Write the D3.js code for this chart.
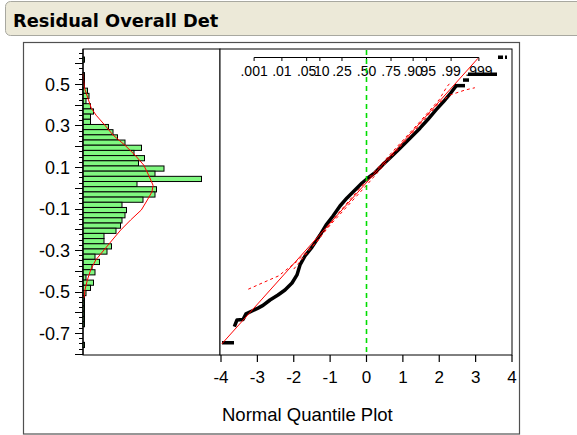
<!DOCTYPE html>
<html><head><meta charset="utf-8">
<script src="https://cdn.jsdelivr.net/npm/d3@7"></script>
<style>body{margin:0;background:#fff}svg{display:block}</style>
</head><body>
<svg id="c" width="577" height="435"></svg>
<script>
// ---------- data ----------
const title = "Residual Overall Det";
const xLabel = "Normal Quantile Plot";
const yTickValues = [0.5, 0.3, 0.1, -0.1, -0.3, -0.5, -0.7];
const yTickLabels = ["0.5", "0.3", "0.1", "-0.1", "-0.3", "-0.5", "-0.7"];
const qTickValues = [-4, -3, -2, -1, 0, 1, 2, 3, 4];
const qTickLabels = ["-4", "-3", "-2", "-1", "0", "1", "2", "3", "4"];
const probLabels = [".001", ".01", ".05", ".10", ".25", ".50", ".75", ".90", ".95", ".99", ".999"];
const probZ = [-3.090, -2.326, -1.645, -1.282, -0.674, 0, 0.674, 1.282, 1.645, 2.326, 3.090];

// histogram bins (lower edge, count)
const binWidth = 0.025;
const binLow = [0.605, 0.53, 0.505, 0.48, 0.455, 0.43, 0.405, 0.38, 0.355, 0.33, 0.305, 0.28, 0.255, 0.23, 0.205, 0.18, 0.155, 0.13, 0.105, 0.08, 0.055, 0.03, 0.005,
  -0.02, -0.045, -0.07, -0.095, -0.12, -0.145, -0.17, -0.195, -0.22, -0.245, -0.27, -0.295, -0.32, -0.345, -0.37, -0.395, -0.42, -0.445, -0.47, -0.495, -0.52,
  -0.545, -0.57, -0.595, -0.62, -0.645, -0.67, -0.77];
const binCount = [1, 1, 1, 1, 3, 4, 2, 5, 7, 5, 5, 17, 20, 23, 28, 39, 34, 41, 37, 54, 48, 79, 36,
  49, 48, 40, 26, 29, 28, 26, 25, 22, 14, 14, 19, 16, 8, 11, 6, 8, 2, 7, 5, 2,
  1, 1, 1, 1, 1, 1, 1];

// fitted density curve on histogram (value, count-equivalent)
const densV = [0.55, 0.482, 0.431, 0.384, 0.35, 0.302, 0.254, 0.206, 0.157, 0.109, 0.06, 0.012, -0.019, -0.059, -0.107, -0.155, -0.204, -0.252, -0.3, -0.348, -0.396, -0.445, -0.493, -0.53];
const densC = [0, 0.9, 3.3, 5.5, 8.7, 14.5, 20, 27.8, 34.7, 40.5, 43.8, 46.7, 46, 42.9, 38.9, 31.8, 25.1, 19.5, 14, 8.5, 5.1, 2.9, 1.3, 0.7];

// normal quantile plot: ordered residuals (normal quantile, residual)
const curveQ = [-3.615, -3.560, -3.395, -3.313, -3.148, -2.983, -2.845, -2.653, -2.433, -2.241, -2.048, -1.911, -1.828, -1.691, -1.498, -1.278, -1.113, -0.921, -0.729, -0.536, -0.316, -0.124, 0.041, 0.234, 0.454, 0.701, 0.921, 1.196, 1.471, 1.691, 1.911, 2.131, 2.296, 2.433];
const curveV = [-0.661, -0.637, -0.635, -0.608, -0.594, -0.580, -0.567, -0.541, -0.517, -0.493, -0.459, -0.420, -0.372, -0.329, -0.286, -0.228, -0.180, -0.136, -0.088, -0.049, -0.011, 0.023, 0.047, 0.073, 0.112, 0.153, 0.190, 0.238, 0.287, 0.330, 0.375, 0.418, 0.452, 0.484];
// runs of tied residuals
const tieQ1 = [-3.973, 2.433, 2.653, 2.790, 3.615, 3.808];
const tieQ2 = [-3.643, 2.708, 2.818, 3.588, 3.753, 3.863];
const tieV  = [-0.747, 0.492, 0.519, 0.547, 0.629, 0.629];
// fitted normal line
const fitQ = [-3.98, 3.065];
const fitV = [-0.753, 0.624];
// confidence bands
const upperQ = [-3.25, -2.84, -2.42, -1.92, -1.37, -0.8, 0, 0.8, 1.4, 2.0, 2.21, 2.3];
const upperV = [-0.489, -0.457, -0.425, -0.356, -0.262, -0.128, 0.035, 0.190, 0.305, 0.425, 0.487, 0.505];
const lowerQ = [-2.0, -1.0, 0, 1.0, 1.6, 2.0, 2.3, 2.71, 2.98];
const lowerV = [-0.392, -0.18, 0.012, 0.212, 0.33, 0.41, 0.447, 0.471, 0.482];

// ---------- layout ----------
const svg = d3.select("#c");
const axisX = 83, panelTop = 49, panelBot = 355, qLeft = 220, qRight = 512;
const y = d3.scaleLinear().domain([0.5, -0.7]).range([84, 333]);
const xc = d3.scaleLinear().domain([0, 80]).range([axisX, axisX + 120]);
const xq = d3.scaleLinear().domain([-4, 4]).range([221, 512]);
const font = "'Liberation Sans', Arial, sans-serif";

// title bar
svg.append("rect").attr("x", 5.5).attr("y", 1.5).attr("width", 640).attr("height", 34)
  .attr("rx", 5).attr("fill", "#ece9d8").attr("stroke", "#a8a8a0").attr("stroke-width", 1);
svg.append("text").attr("x", 13).attr("y", 26.7).text(title)
  .attr("font-family", "'DejaVu Sans', sans-serif").attr("font-weight", "bold")
  .attr("font-size", 17.8).attr("fill", "#000");

// outer box
svg.append("rect").attr("x", 23.5).attr("y", 42.5).attr("width", 496).attr("height", 391.5)
  .attr("fill", "#fff").attr("stroke", "#505050").attr("stroke-width", 1.2);

// histogram panel frame
svg.append("rect").attr("x", axisX).attr("y", panelTop).attr("width", qLeft - axisX).attr("height", panelBot - panelTop)
  .attr("fill", "#fff").attr("stroke", "#000").attr("stroke-width", 1);
// quantile panel frame
svg.append("rect").attr("x", qLeft).attr("y", panelTop).attr("width", qRight - qLeft).attr("height", panelBot - panelTop)
  .attr("fill", "#fff").attr("stroke", "#000").attr("stroke-width", 1);

// left axis ticks
const minorTicks = d3.range(-32, 27).map(i => i * 0.025);
svg.append("g").selectAll("line").data(minorTicks).join("line")
  .attr("x1", d => Math.abs(d * 10 - Math.round(d * 10)) < 1e-6 ? axisX - 8 : axisX - 4)
  .attr("x2", axisX).attr("y1", d => Math.round(y(d)) + 0.5).attr("y2", d => Math.round(y(d)) + 0.5)
  .attr("stroke", "#000").attr("stroke-width", 1);
svg.append("g").selectAll("text").data(yTickValues).join("text")
  .attr("x", 70).attr("y", d => y(d) + 6.5).attr("text-anchor", "end")
  .attr("font-family", font).attr("font-size", 18).attr("fill", "#000")
  .text((d, i) => yTickLabels[i]);

// histogram bars
const bins = binLow.map((lo, i) => ({lo, c: binCount[i]}));
svg.append("g").selectAll("rect").data(bins).join("rect")
  .attr("x", axisX).attr("y", d => y(d.lo + binWidth))
  .attr("width", d => xc(d.c) - axisX).attr("height", d => y(d.lo) - y(d.lo + binWidth))
  .attr("fill", "#80f880").attr("stroke", "#000").attr("stroke-width", 1);

// density curve
const dens = densV.map((v, i) => [xc(densC[i]), y(v)]);
svg.append("path").attr("d", d3.line()(dens)).attr("fill", "none")
  .attr("stroke", "#ff0000").attr("stroke-width", 1);

// left axis line (drawn over bars)
svg.append("line").attr("x1", axisX).attr("x2", axisX).attr("y1", panelTop).attr("y2", panelBot)
  .attr("stroke", "#000").attr("stroke-width", 1.2);

// bottom axis
const bx = svg.append("g");
bx.selectAll("line").data(qTickValues).join("line")
  .attr("x1", d => xq(d)).attr("x2", d => xq(d)).attr("y1", panelBot).attr("y2", panelBot + 7)
  .attr("stroke", "#000").attr("stroke-width", 1.2);
bx.selectAll("text").data(qTickValues).join("text")
  .attr("x", d => xq(d)).attr("y", 383).attr("text-anchor", "middle")
  .attr("font-family", font).attr("font-size", 17).attr("fill", "#000")
  .text((d, i) => qTickLabels[i]);
svg.append("text").attr("x", 222).attr("y", 421).text(xLabel)
  .attr("font-family", font).attr("font-size", 18.5).attr("fill", "#000");

// top probability axis
const pz = svg.append("g");
pz.append("line").attr("x1", xq(probZ[0])).attr("x2", xq(probZ[probZ.length - 1]))
  .attr("y1", 57.5).attr("y2", 57.5).attr("stroke", "#000").attr("stroke-width", 1);
pz.selectAll("line.t").data(probZ).join("line").attr("class", "t")
  .attr("x1", d => xq(d)).attr("x2", d => xq(d)).attr("y1", 57.5).attr("y2", 61)
  .attr("stroke", "#000").attr("stroke-width", 1);
pz.selectAll("text").data(probZ).join("text")
  .attr("x", d => xq(d)).attr("y", 75.5).attr("text-anchor", "middle")
  .attr("font-family", font).attr("font-size", 14).attr("fill", "#000")
  .text((d, i) => probLabels[i]);

// ordered residuals
const curve = curveQ.map((q, i) => [xq(q), y(curveV[i])]);
svg.append("path").attr("d", d3.line()(curve)).attr("fill", "none")
  .attr("stroke", "#000").attr("stroke-width", 3.5).attr("stroke-linejoin", "round").attr("stroke-linecap", "square");
svg.append("g").selectAll("line").data(tieV).join("line")
  .attr("x1", (d, i) => xq(tieQ1[i])).attr("x2", (d, i) => xq(tieQ2[i]))
  .attr("y1", d => y(d)).attr("y2", d => y(d))
  .attr("stroke", "#000").attr("stroke-width", 3.5);

// fit line and bands
svg.append("line").attr("x1", xq(fitQ[0])).attr("y1", y(fitV[0])).attr("x2", xq(fitQ[1])).attr("y2", y(fitV[1]))
  .attr("stroke", "#ff0000").attr("stroke-width", 1);
const up = upperQ.map((q, i) => [xq(q), y(upperV[i])]);
const lo = lowerQ.map((q, i) => [xq(q), y(lowerV[i])]);
[up, lo].forEach(b => svg.append("path").attr("d", d3.line()(b)).attr("fill", "none")
  .attr("stroke", "#ff0000").attr("stroke-width", 1).attr("stroke-dasharray", "3,3"));

// median reference line
svg.append("line").attr("x1", xq(0)).attr("x2", xq(0)).attr("y1", panelTop + 1).attr("y2", panelBot - 1)
  .attr("stroke", "#00dd00").attr("stroke-width", 1.6).attr("stroke-dasharray", "5,4");
</script>
</body></html>
